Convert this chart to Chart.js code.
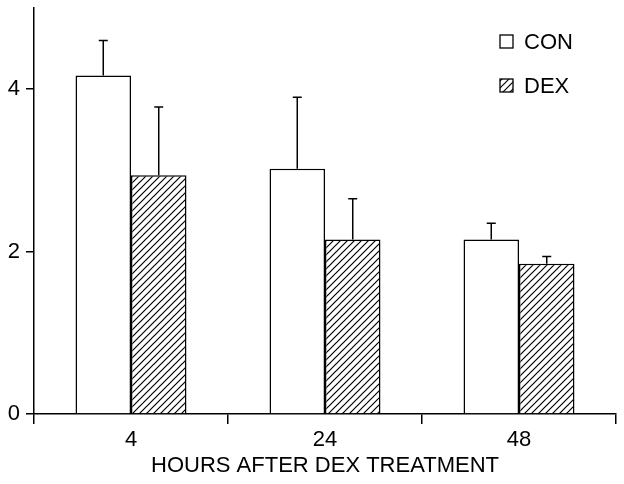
<!DOCTYPE html>
<html>
<head>
<meta charset="utf-8">
<script src="https://cdn.jsdelivr.net/npm/chart.js@4"></script>
<style>
  html, body { margin: 0; padding: 0; background: #fff; }
  canvas { display: block; }
</style>
</head>
<body>
<canvas id="c" width="624" height="484"></canvas>
<script>
// ---- data ----
const categories = ['4', '24', '48'];
const conMeans = [4.17, 3.02, 2.15];
const conErr = [0.43, 0.88, 0.20];
const dexMeans = [2.94, 2.15, 1.85];
const dexErr = [0.84, 0.50, 0.09];
const yTicks = [0, 2, 4];
const xTitle = 'HOURS AFTER DEX TREATMENT';
const seriesLabels = ['CON', 'DEX'];

const FONT = '"Liberation Sans", Arial, Helvetica, sans-serif';

function makeHatch() {
  const s = 7;
  const p = document.createElement('canvas');
  p.width = s; p.height = s;
  const g = p.getContext('2d');
  g.fillStyle = '#fff';
  g.fillRect(0, 0, s, s);
  g.strokeStyle = '#000';
  g.lineWidth = 1.2;
  g.beginPath();
  g.moveTo(-1, s + 1); g.lineTo(s + 1, -1);
  g.moveTo(-1, 1); g.lineTo(1, -1);
  g.moveTo(s - 1, s + 1); g.lineTo(s + 1, s - 1);
  g.stroke();
  return document.getElementById('c').getContext('2d').createPattern(p, 'repeat');
}
const hatch = makeHatch();

const bgPlugin = {
  id: 'bg',
  beforeDraw(chart) {
    const ctx = chart.ctx;
    ctx.save();
    ctx.fillStyle = '#fff';
    ctx.fillRect(0, 0, chart.width, chart.height);
    ctx.restore();
  }
};

const errPlugin = {
  id: 'errbars',
  afterDatasetsDraw(chart) {
    const ctx = chart.ctx;
    const y = chart.scales.y;
    chart.data.datasets.forEach((ds, di) => {
      const meta = chart.getDatasetMeta(di);
      meta.data.forEach((bar, i) => {
        const top = y.getPixelForValue(ds.data[i] + ds.err[i]);
        const base = bar.y;
        ctx.save();
        ctx.strokeStyle = '#000';
        ctx.lineWidth = 1.5;
        ctx.beginPath();
        ctx.moveTo(bar.x, base);
        ctx.lineTo(bar.x, top);
        ctx.moveTo(bar.x - 4.5, top);
        ctx.lineTo(bar.x + 4.5, top);
        ctx.stroke();
        ctx.restore();
      });
    });
  }
};

const legendPlugin = {
  id: 'customLegend',
  afterDraw(chart) {
    const ctx = chart.ctx;
    const bx = 500, size = 13;
    const rows = [35, 79];
    chart.data.datasets.forEach((ds, i) => {
      const by = rows[i];
      ctx.save();
      ctx.fillStyle = ds.backgroundColor;
      ctx.fillRect(bx, by, size, size);
      ctx.strokeStyle = '#000';
      ctx.lineWidth = 1.3;
      ctx.strokeRect(bx, by, size, size);
      ctx.fillStyle = '#000';
      ctx.font = '22px ' + FONT;
      ctx.textBaseline = 'middle';
      ctx.textAlign = 'left';
      ctx.fillText(ds.label, bx + 24, by + size / 2 + 1);
      ctx.restore();
    });
  }
};

new Chart(document.getElementById('c'), {
  type: 'bar',
  data: {
    labels: categories,
    datasets: [
      {
        label: seriesLabels[0],
        data: conMeans,
        err: conErr,
        backgroundColor: '#ffffff',
        borderColor: '#000',
        borderWidth: 1.5,
        borderSkipped: 'bottom'
      },
      {
        label: seriesLabels[1],
        data: dexMeans,
        err: dexErr,
        backgroundColor: hatch,
        borderColor: '#000',
        borderWidth: 1.5,
        borderSkipped: 'bottom'
      }
    ]
  },
  options: {
    responsive: false,
    animation: false,
    layout: { padding: { top: 8, right: 8, left: 0, bottom: 0 } },
    categoryPercentage: 0.572,
    barPercentage: 1.0,
    plugins: {
      legend: { display: false },
      tooltip: { enabled: false }
    },
    scales: {
      x: {
        type: 'category',
        offset: true,
        grid: {
          offset: true,
          drawOnChartArea: false,
          tickLength: 10,
          color: '#000',
          lineWidth: 1.5
        },
        border: { display: true, color: '#000', width: 1.5 },
        ticks: {
          color: '#000',
          font: { family: FONT, size: 22 },
          padding: 3,
          maxRotation: 0
        },
        title: {
          display: true,
          text: xTitle,
          color: '#000',
          font: { family: FONT, size: 22 },
          padding: { top: 0, bottom: 5 }
        },
        afterFit(scale) {
          scale.height = 70;
          scale.paddingLeft = 0; scale.paddingRight = 0;
        }
      },
      y: {
        min: 0,
        max: 5,
        grid: {
          drawOnChartArea: false,
          tickLength: 8,
          color: '#000',
          lineWidth: 1.5
        },
        border: { display: true, color: '#000', width: 1.5 },
        ticks: {
          color: '#000',
          font: { family: FONT, size: 22 },
          padding: 6
        },
        afterBuildTicks(scale) {
          scale.ticks = yTicks.map(v => ({ value: v }));
        },
        afterFit(scale) {
          scale.width = 34;
          scale.paddingTop = 0; scale.paddingBottom = 0;
        }
      }
    }
  },
  plugins: [bgPlugin, errPlugin, legendPlugin]
});
</script>
</body>
</html>
